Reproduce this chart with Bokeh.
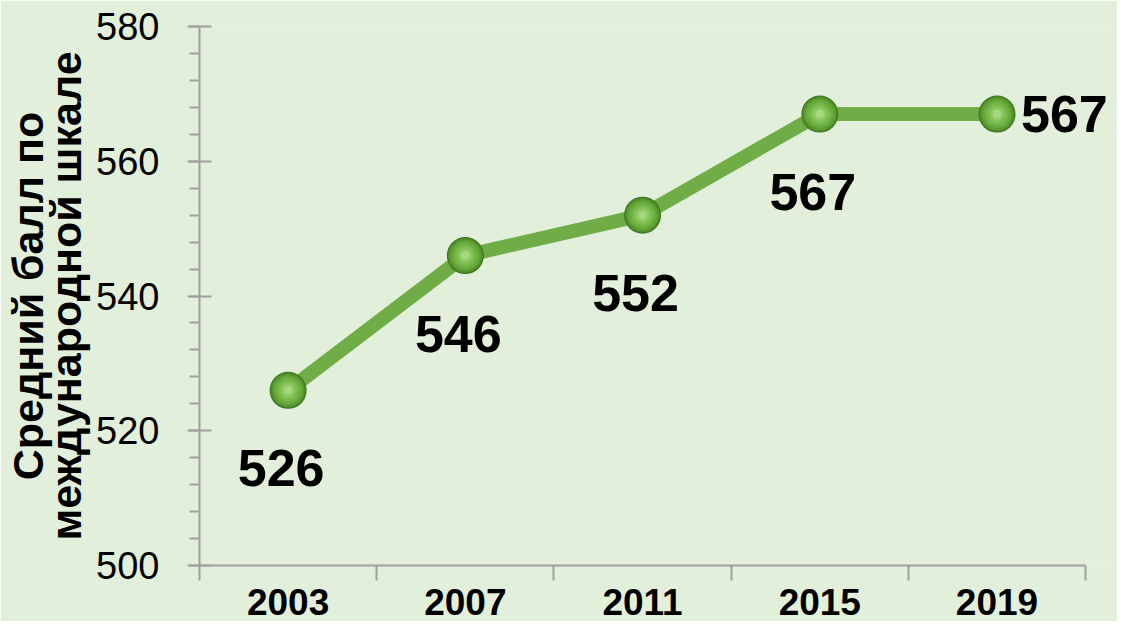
from bokeh.plotting import figure
from bokeh.models import (ColumnDataSource, LabelSet, FixedTicker,
                          SingleIntervalTicker, Range1d)
from bokeh.core.properties import value
from bokeh.embed import file_html
from bokeh.resources import INLINE

# ---- data ----
years = ["2003", "2007", "2011", "2015", "2019"]
scores = [526, 546, 552, 567, 567]
y_ticks_start, y_ticks_end = 500, 580

BG = "#e2efda"
GREEN = "#70ad47"
AXIS = "#a0a0a0"
FONT = "Liberation Sans"

xs = [i + 0.5 for i in range(len(years))]
src = ColumnDataSource(dict(x=xs, y=scores))

W, H = 1117, 621
FRAME_LEFT, FRAME_TOP, FRAME_BOTTOM = 195, 26, 565
PX_PER_CAT = 178
p = figure(width=W, height=H, output_backend="svg", toolbar_location=None,
           x_range=Range1d(0, (W - FRAME_LEFT) / PX_PER_CAT),
           y_range=Range1d(y_ticks_start, y_ticks_end),
           min_border_left=FRAME_LEFT, min_border_top=FRAME_TOP,
           min_border_bottom=H - FRAME_BOTTOM, min_border_right=0)
p.background_fill_color = BG
p.border_fill_color = BG
p.outline_line_color = None
p.grid.visible = False

# y axis
ya = p.yaxis[0]
ya.ticker = SingleIntervalTicker(interval=20, num_minor_ticks=5)
ya.bounds = (y_ticks_start, y_ticks_end)
ya.axis_line_color = AXIS
ya.axis_line_width = 2
ya.major_tick_line_color = AXIS
ya.major_tick_line_width = 2
ya.minor_tick_line_color = AXIS
ya.minor_tick_line_width = 2
ya.major_tick_in = 12
ya.major_tick_out = 12
ya.minor_tick_in = 0
ya.minor_tick_out = 10
ya.major_label_text_font = FONT
ya.major_label_text_font_size = "38px"
ya.major_label_text_color = "black"
ya.major_label_standoff = 28
ya.axis_label = "Средний балл по\nмеждународной шкале"
ya.axis_label_text_font = FONT
ya.axis_label_text_font_style = "bold"
ya.axis_label_text_font_size = "43px"
ya.axis_label_text_line_height = 0.8
ya.axis_label_text_color = "black"
ya.axis_label_standoff = 3

# x axis
xa = p.xaxis[0]
xa.ticker = FixedTicker(ticks=xs, minor_ticks=list(range(len(years) + 1)))
xa.major_label_overrides = {x: y for x, y in zip(xs, years)}
xa.bounds = (0, len(years))
xa.axis_line_color = AXIS
xa.axis_line_width = 2
xa.major_tick_line_color = None
xa.major_tick_in = 0
xa.major_tick_out = 0
xa.minor_tick_line_color = AXIS
xa.minor_tick_line_width = 2
xa.minor_tick_in = 0
xa.minor_tick_out = 15
xa.major_label_text_font = FONT
xa.major_label_text_font_style = "bold"
xa.major_label_text_font_size = "37px"
xa.major_label_text_color = "black"
xa.major_label_standoff = 8

# line
p.line("x", "y", source=src, line_color=GREEN, line_width=14)

# spheres (layers to imitate shading)
for size, col in [(37, "#3d7620"), (35, "#4e8c2a"), (32, "#5c9d33"), (28, "#68ab3c"),
                  (23, "#74b647"), (18, "#81c055"), (13, "#90ca66"), (8, "#a6d882")]:
    p.scatter("x", "y", source=src, size=size, fill_color=col, line_color=None)

# value labels
n = len(years)
below = ColumnDataSource(dict(x=xs[:n - 1], y=scores[:n - 1],
                              lab=[str(s) for s in scores[:n - 1]]))
right = ColumnDataSource(dict(x=xs[n - 1:], y=scores[n - 1:],
                              lab=[str(s) for s in scores[n - 1:]]))
p.add_layout(LabelSet(x="x", y="y", text="lab", source=below, x_offset=-7, y_offset=-78,
                      text_align="center", text_baseline="middle",
                      text_font=value(FONT), text_font_style="bold",
                      text_font_size=value("52px"), text_color="black"))
p.add_layout(LabelSet(x="x", y="y", text="lab", source=right, x_offset=24, y_offset=0,
                      text_align="left", text_baseline="middle",
                      text_font=value(FONT), text_font_style="bold",
                      text_font_size=value("52px"), text_color="black"))

open("out.html", "w").write(file_html(p, INLINE))
